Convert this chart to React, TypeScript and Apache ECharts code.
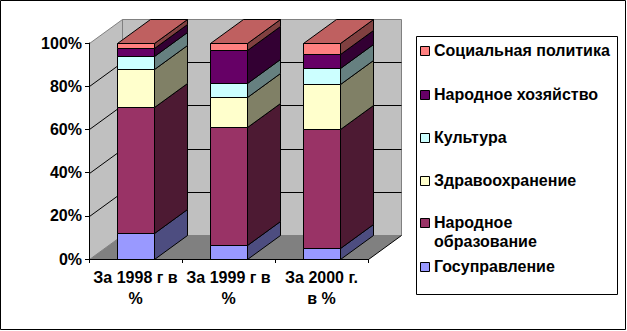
import React, { useEffect, useRef } from "react";
import * as echarts from "echarts";

// ---- Data ----
const CATEGORIES = ["За 1998 г в\n%", "За 1999 г в\n%", "За 2000 г.\nв %"];
const SERIES_NAMES = [
  "Госуправление",
  "Народное образование",
  "Здравоохранение",
  "Культура",
  "Народное хозяйство",
  "Социальная политика",
];
const GOSUPR = [11.9, 6.6, 5.2];
const NAR_OBRAZ = [58.6, 54.4, 55.1];
const ZDRAV = [17.3, 13.9, 20.6];
const KULTURA = [6.0, 6.4, 7.4];
const NAR_HOZ = [3.6, 15.3, 6.6];
const SOC_POL = [2.5, 3.4, 5.1];
const Y_TICKS = [0, 20, 40, 60, 80, 100];

const COLORS = ["#9999FF", "#993366", "#FFFFCC", "#CCFFFF", "#660066", "#FF8080"];
const LEGEND_LABELS = [
  "Госуправление",
  "Народное\nобразование",
  "Здравоохранение",
  "Культура",
  "Народное хозяйство",
  "Социальная политика",
];

const SERIES_VALUES = [GOSUPR, NAR_OBRAZ, ZDRAV, KULTURA, NAR_HOZ, SOC_POL];

const DX = 33;
const DY = 24;
const FONT = '"Liberation Sans", Arial, sans-serif';

function shade(hex: string, f: number): string {
  const n = parseInt(hex.slice(1), 16);
  const r = Math.round(((n >> 16) & 255) * f);
  const g = Math.round(((n >> 8) & 255) * f);
  const b = Math.round((n & 255) * f);
  return "rgb(" + r + "," + g + "," + b + ")";
}

export default function App() {
  const ref = useRef<HTMLDivElement>(null);
  useEffect(() => {
    document.body.style.margin = "0";
    if (!ref.current) return;
    const chart = echarts.init(ref.current, null, { renderer: "svg" });

    // 100% stacked table
    const totals = CATEGORIES.map((_, c) =>
      SERIES_VALUES.reduce((s, arr) => s + arr[c], 0)
    );
    const bases = CATEGORIES.map(() => 0);
    const lastIdx = SERIES_VALUES.length - 1;
    const barSeries: any[] = SERIES_VALUES.map((arr, si) => {
      const data = arr.map((v, c) => {
        const pct = (v / totals[c]) * 100;
        const item = [c, bases[c], pct];
        bases[c] += pct;
        return item;
      });
      const color = COLORS[si];
      return {
        type: "custom",
        name: SERIES_NAMES[si],
        clip: false,
        silent: true,
        z: 3,
        data,
        encode: { x: 0, y: 1 },
        itemStyle: { color },
        renderItem: (params: any, api: any) => {
          const cat = api.value(0);
          const base = api.value(1);
          const val = api.value(2);
          const p0 = api.coord([cat, base]);
          const p1 = api.coord([cat, base + val]);
          const band = api.size([1, 0])[0];
          const w = band * 0.4;
          const x0 = Math.round(p0[0] - w / 2) + 0.5;
          const x1 = x0 + Math.round(w);
          const yb = Math.round(p0[1]) + 0.5;
          const yt = Math.round(p1[1]) + 0.5;
          const stroke = { stroke: "#000", lineWidth: 1 };
          const children: any[] = [
            {
              type: "polygon",
              shape: { points: [[x1, yb], [x1 + DX, yb - DY], [x1 + DX, yt - DY], [x1, yt]] },
              style: { fill: shade(color, 0.5), ...stroke },
            },
            {
              type: "rect",
              shape: { x: x0, y: yt, width: x1 - x0, height: yb - yt },
              style: { fill: color, ...stroke },
            },
          ];
          if (si === lastIdx) {
            children.push({
              type: "polygon",
              shape: { points: [[x0, yt], [x1, yt], [x1 + DX, yt - DY], [x0 + DX, yt - DY]] },
              style: { fill: shade(color, 0.75), ...stroke },
            });
          }
          return { type: "group", children };
        },
      };
    });

    const wallSeries = {
      type: "custom",
      name: "walls",
      clip: false,
      silent: true,
      z: 1,
      data: [[0, 0]],
      renderItem: (params: any, api: any) => {
        const cs = params.coordSys;
        const L = Math.round(cs.x) + 0.5;
        const T = Math.round(cs.y) + 0.5;
        const R = Math.round(cs.x + cs.width) + 0.5;
        const B = Math.round(cs.y + cs.height) + 0.5;
        const children: any[] = [
          {
            type: "polygon",
            shape: { points: [[L, B], [L, T], [L + DX, T - DY], [L + DX, B - DY]] },
            style: { fill: "#C0C0C0", stroke: "#808080", lineWidth: 1 },
          },
          {
            type: "rect",
            shape: { x: L + DX, y: T - DY, width: R - L, height: B - T },
            style: { fill: "#C0C0C0", stroke: "#808080", lineWidth: 1 },
          },
          {
            type: "polygon",
            shape: { points: [[L, B], [L + DX, B - DY], [R + DX, B - DY], [R, B]] },
            style: { fill: "#808080", stroke: "none" },
          },
          {
            type: "line",
            shape: { x1: R, y1: B, x2: R + DX, y2: B - DY },
            style: { stroke: "#000", lineWidth: 1 },
          },
        ];
        Y_TICKS.forEach((v) => {
          if (v === Y_TICKS[0] || v === Y_TICKS[Y_TICKS.length - 1]) return;
          const y = Math.round(api.coord([0, v])[1]) + 0.5;
          children.push({
            type: "line",
            shape: { x1: L, y1: y, x2: L + DX, y2: y - DY },
            style: { stroke: "#000", lineWidth: 1 },
          });
          children.push({
            type: "line",
            shape: { x1: L + DX, y1: y - DY, x2: R + DX, y2: y - DY },
            style: { stroke: "#000", lineWidth: 1 },
          });
        });
        return { type: "group", children };
      },
    };

    // legend (top to bottom: reverse series order)
    const legendCenters = [266, 222, 180, 137.5, 94, 50];
    const legendGraphics: any[] = [];
    SERIES_NAMES.forEach((name, i) => {
      const cy = legendCenters[i];
      const twoLine = LEGEND_LABELS[i].indexOf("\n") >= 0;
      legendGraphics.push({
        type: "rect",
        shape: { x: 420.5, y: Math.round(cy - 4.5) + 0.5, width: 9, height: 9 },
        style: { fill: COLORS[i], stroke: "#000", lineWidth: 1 },
      });
      legendGraphics.push({
        type: "text",
        x: 434,
        y: twoLine ? cy - 9.5 : cy,
        style: {
          text: LEGEND_LABELS[i],
          fill: "#000",
          fontFamily: FONT,
          fontWeight: "bold",
          fontSize: 16,
          lineHeight: 19,
          align: "left",
          verticalAlign: twoLine ? "top" : "middle",
        },
      });
    });

    chart.setOption({
      animation: false,
      grid: { left: 89, top: 43, width: 279, height: 216, containLabel: false },
      xAxis: {
        type: "category",
        data: CATEGORIES,
        boundaryGap: true,
        axisLine: { show: true, lineStyle: { color: "#000", width: 1 } },
        axisTick: { show: true, length: 4, lineStyle: { color: "#000" } },
        axisLabel: {
          margin: 8,
          color: "#000",
          fontFamily: FONT,
          fontWeight: "bold",
          fontSize: 16,
          lineHeight: 21,
          interval: 0,
        },
        splitLine: { show: false },
        z: 5,
      },
      yAxis: {
        type: "value",
        min: 0,
        max: 100,
        interval: 20,
        axisLine: { show: true, lineStyle: { color: "#000", width: 1 } },
        axisTick: { show: true, length: 4, lineStyle: { color: "#000" } },
        axisLabel: {
          margin: 7,
          formatter: "{value}%",
          color: "#000",
          fontFamily: FONT,
          fontWeight: "bold",
          fontSize: 16,
        },
        splitLine: { show: false },
        z: 5,
      },
      series: [wallSeries, ...barSeries],
      graphic: [
        {
          type: "rect",
          shape: { x: 0.5, y: 0.5, width: 625, height: 329 },
          style: { fill: "none", stroke: "#000", lineWidth: 1 },
          z: 0,
        },
        {
          type: "rect",
          shape: { x: 416.5, y: 36.5, width: 201, height: 258 },
          style: { fill: "#fff", stroke: "#000", lineWidth: 1 },
          z: 1,
        },
        ...legendGraphics.map((g) => ({ ...g, z: 2 })),
      ],
    });
    return () => chart.dispose();
  }, []);
  return <div ref={ref} style={{ width: 627, height: 331 }} />;
}
